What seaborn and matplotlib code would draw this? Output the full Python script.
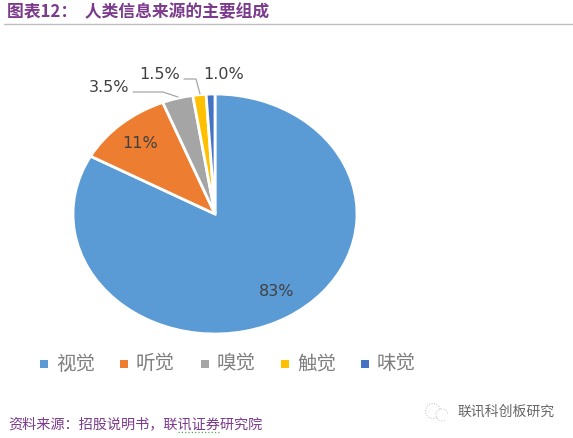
import matplotlib

matplotlib.use("Agg")
import matplotlib.pyplot as plt
from matplotlib.patches import Arc, Rectangle
import seaborn as sns

categories = ["视觉", "听觉", "嗅觉", "触觉", "味觉"]
shares = [83, 11, 3.5, 1.5, 1.0]
share_labels = ["83%", "11%", "3.5%", "1.5%", "1.0%"]
colors = ["#5B9BD5", "#ED7D31", "#A5A5A5", "#FFC000", "#4472C4"]

title = "图表12：  人类信息来源的主要组成"
source = "资料来源：招股说明书，联讯证券研究院"
watermark = "联讯科创板研究"

W, H = 573, 439
CJK = ["Noto Sans CJK SC", "DejaVu Sans"]
PURPLE = "#7B3A8C"

sns.set_theme(style="white")
plt.rcParams["font.family"] = CJK


def px(x, y):
    # picture pixels to figure fraction
    return x / W, 1 - y / H


fig = plt.figure(figsize=(W / 100, H / 100), dpi=100, facecolor="white")

# the pie is stretched in the reference, so the axes box is not square
ax = fig.add_axes([73 / W, 1 - 335 / H, 284 / W, 240 / H])
wedges, _ = ax.pie(
    shares,
    colors=colors,
    startangle=90,
    counterclock=False,
    radius=1,
    wedgeprops={"edgecolor": "white", "linewidth": 2.0},
)
ax.set_aspect("auto")
ax.set_xlim(-1, 1)
ax.set_ylim(-1, 1)

# percent labels
label_pos = [(277, 291), (140, 144), (109, 88), (160, 75), (224, 75)]
for lab, (x, y) in zip(share_labels, label_pos):
    fx, fy = px(x, y)
    fig.text(fx, fy, lab, ha="center", va="center", fontsize=11.5,
             family="DejaVu Sans", color="#404040")

# leader lines
for xs, ys in [([133, 163, 178], [93, 93, 98]), ([184, 196, 200], [80, 80, 95])]:
    pts = [px(x, y) for x, y in zip(xs, ys)]
    fig.add_artist(plt.Line2D([p[0] for p in pts], [p[1] for p in pts],
                              color="#A6A6A6", lw=0.9))

# title and rule
fx, fy = px(7, 12)
fig.text(fx, fy, title, ha="left", va="center", fontsize=12.1, fontweight="bold",
         color=PURPLE)
fig.add_artist(plt.Line2D([4 / W, 1], [1 - 25 / H] * 2, color="#C0C0C0", lw=1))

# legend
legend_x = [40, 120, 201, 281, 361]
for name, col, x in zip(categories, colors, legend_x):
    fx, fy = px(x, 369)
    fig.add_artist(Rectangle((fx, fy), 8 / W, 8 / H, transform=fig.transFigure,
                             facecolor=col, edgecolor="none"))
    fx, fy = px(x + 16, 364)
    fig.text(fx, fy, name, ha="left", va="center", fontsize=14, color="#7F7F7F")

# source line
fx, fy = px(8, 424)
fig.text(fx, fy, source, ha="left", va="center", fontsize=10.2, color=PURPLE)
wavy = plt.Line2D([178 / W, 221 / W], [1 - 432.5 / H] * 2, color="#4CAF50", lw=0.9, ls=":")
fig.add_artist(wavy)

# watermark
fx, fy = px(457, 412)
fig.text(fx, fy, watermark, ha="left", va="center", fontsize=10, color="#666666")
for x, y, w in [(433, 412, 15), (442, 416, 12)]:
    cx, cy = px(x, y)
    fig.add_artist(Arc((cx, cy), w / W, w / H, transform=fig.transFigure,
                       theta1=20, theta2=300, color="#BDBDBD", lw=0.7, ls=":"))

fig.savefig("out.png", dpi=100)
